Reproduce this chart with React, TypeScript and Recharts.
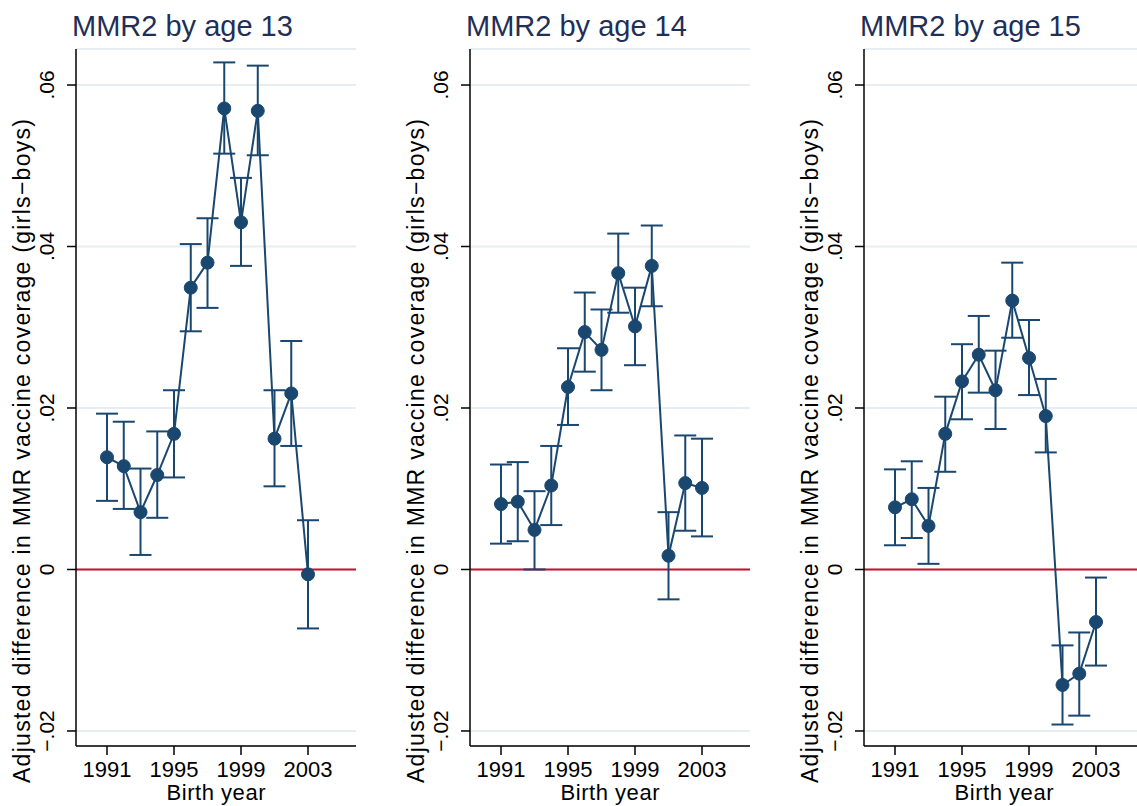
import React from "react";
import {
  ComposedChart,
  Line,
  ErrorBar,
  XAxis,
  YAxis,
  CartesianGrid,
  ReferenceLine,
} from "recharts";

// birth cohorts on the x axis
const years = [1991, 1992, 1993, 1994, 1995, 1996, 1997, 1998, 1999, 2000, 2001, 2002, 2003];

// point estimates + 95% CI bounds
const age13 = [0.0139, 0.0128, 0.0071, 0.0117, 0.0168, 0.0349, 0.038, 0.0571, 0.043, 0.0568, 0.0162, 0.0218, -0.0006];
const age13Lo = [0.0085, 0.0075, 0.0018, 0.0064, 0.0114, 0.0295, 0.0324, 0.0515, 0.0376, 0.0513, 0.0103, 0.0153, -0.0073];
const age13Hi = [0.0193, 0.0183, 0.0125, 0.0171, 0.0222, 0.0403, 0.0435, 0.0628, 0.0485, 0.0624, 0.0222, 0.0283, 0.0061];

const age14 = [0.0081, 0.0084, 0.0049, 0.0104, 0.0226, 0.0294, 0.0272, 0.0367, 0.0301, 0.0376, 0.0017, 0.0107, 0.0101];
const age14Lo = [0.0032, 0.0035, 0.0, 0.0055, 0.0179, 0.0245, 0.0222, 0.0318, 0.0253, 0.0326, -0.0037, 0.0048, 0.0041];
const age14Hi = [0.013, 0.0133, 0.0097, 0.0153, 0.0274, 0.0343, 0.0322, 0.0416, 0.0349, 0.0426, 0.0071, 0.0166, 0.0162];

const age15 = [0.0077, 0.0087, 0.0054, 0.0168, 0.0233, 0.0266, 0.0222, 0.0333, 0.0262, 0.019, -0.0143, -0.0129, -0.0065];
const age15Lo = [0.003, 0.0039, 0.0007, 0.0121, 0.0186, 0.0219, 0.0174, 0.0287, 0.0216, 0.0145, -0.0192, -0.0181, -0.0119];
const age15Hi = [0.0124, 0.0134, 0.0101, 0.0214, 0.0279, 0.0314, 0.0271, 0.038, 0.0309, 0.0236, -0.0094, -0.0078, -0.001];

const panelTitles = ["MMR2 by age 13", "MMR2 by age 14", "MMR2 by age 15"];
const xTicks = [1991, 1995, 1999, 2003];
const yTicks = [-0.02, 0, 0.02, 0.04, 0.06];
const yTickLabels = ["\u2212.02", "0", ".02", ".04", ".06"];

const yLabel = "Adjusted difference in MMR vaccine coverage (girls\u2212boys)";
const xLabel = "Birth year";

const NAVY = "#1a476f";
const FONT = "'Liberation Sans', Arial, Helvetica, sans-serif";
const PANEL_W = 394;
const H = 806;

const makeRows = (v: number[], lo: number[], hi: number[]) =>
  years.map((year, i) => ({
    year,
    value: v[i],
    err: [v[i] - lo[i], hi[i] - v[i]],
  }));

const panels = [
  makeRows(age13, age13Lo, age13Hi),
  makeRows(age14, age14Lo, age14Hi),
  makeRows(age15, age15Lo, age15Hi),
];

const YTick = (props: any) => {
  const { y, payload } = props;
  const idx = yTicks.indexOf(payload.value);
  const x = 54;
  return (
    <text
      x={x}
      y={y}
      transform={`rotate(-90 ${x} ${y})`}
      textAnchor="middle"
      fontFamily={FONT}
      fontSize={21}
      fill="#000"
    >
      {idx >= 0 ? yTickLabels[idx] : payload.value}
    </text>
  );
};

const XTick = (props: any) => {
  const { x, payload } = props;
  return (
    <text x={x} y={777} textAnchor="middle" fontFamily={FONT} fontSize={22} fill="#000">
      {payload.value}
    </text>
  );
};

const Panel = ({ rows }: { rows: any[] }) => (
  <ComposedChart
    width={PANEL_W}
    height={H}
    data={rows}
    margin={{ top: 49, right: 38, bottom: 10, left: 16 }}
  >
    <CartesianGrid vertical={false} stroke="#e6eef1" strokeWidth={2} />
    <XAxis
      type="number"
      dataKey="year"
      domain={[1989.149, 2005.865]}
      allowDataOverflow
      ticks={xTicks}
      height={50}
      tickSize={9}
      stroke="#000"
      strokeWidth={1.5}
      tick={<XTick />}
    />
    <YAxis
      type="number"
      domain={[-0.02186, 0.06446]}
      allowDataOverflow
      ticks={yTicks}
      width={60}
      tickSize={9}
      stroke="#000"
      strokeWidth={1.5}
      tick={<YTick />}
    />
    <ReferenceLine y={0} stroke="#c8102e" strokeWidth={2} />
    <Line
      type="linear"
      dataKey="value"
      stroke={NAVY}
      strokeWidth={2}
      dot={{ r: 6.5, fill: NAVY, stroke: NAVY, strokeWidth: 1 }}
      activeDot={false}
      isAnimationActive={false}
    >
      <ErrorBar dataKey="err" direction="y" width={11} stroke={NAVY} strokeWidth={2} />
    </Line>
  </ComposedChart>
);

export default function App() {
  return (
    <div
      style={{
        position: "absolute",
        left: 0,
        top: 0,
        width: 1137,
        height: H,
        overflow: "hidden",
        background: "#fff",
      }}
    >
      {panels.map((rows, i) => (
        <div key={i} style={{ position: "absolute", left: i * PANEL_W, top: 0 }}>
          <Panel rows={rows} />
        </div>
      ))}
      <svg
        width={1137}
        height={H}
        style={{ position: "absolute", left: 0, top: 0, pointerEvents: "none" }}
      >
        {panelTitles.map((t, i) => (
          <text
            key={`t${i}`}
            x={i * PANEL_W + 72}
            y={36}
            fontFamily={FONT}
            fontSize={29}
            fill="#1f2f57"
          >
            {t}
          </text>
        ))}
        {panelTitles.map((_, i) => (
          <text
            key={`y${i}`}
            x={i * PANEL_W + 30}
            y={451}
            transform={`rotate(-90 ${i * PANEL_W + 30} 451)`}
            textAnchor="middle"
            fontFamily={FONT}
            fontSize={23}
            textLength={664}
            lengthAdjust="spacing"
            fill="#000"
          >
            {yLabel}
          </text>
        ))}
        {panelTitles.map((_, i) => (
          <text
            key={`x${i}`}
            x={i * PANEL_W + 216}
            y={800}
            textAnchor="middle"
            fontFamily={FONT}
            fontSize={22}
            textLength={99}
            lengthAdjust="spacing"
            fill="#000"
          >
            {xLabel}
          </text>
        ))}
      </svg>
    </div>
  );
}
